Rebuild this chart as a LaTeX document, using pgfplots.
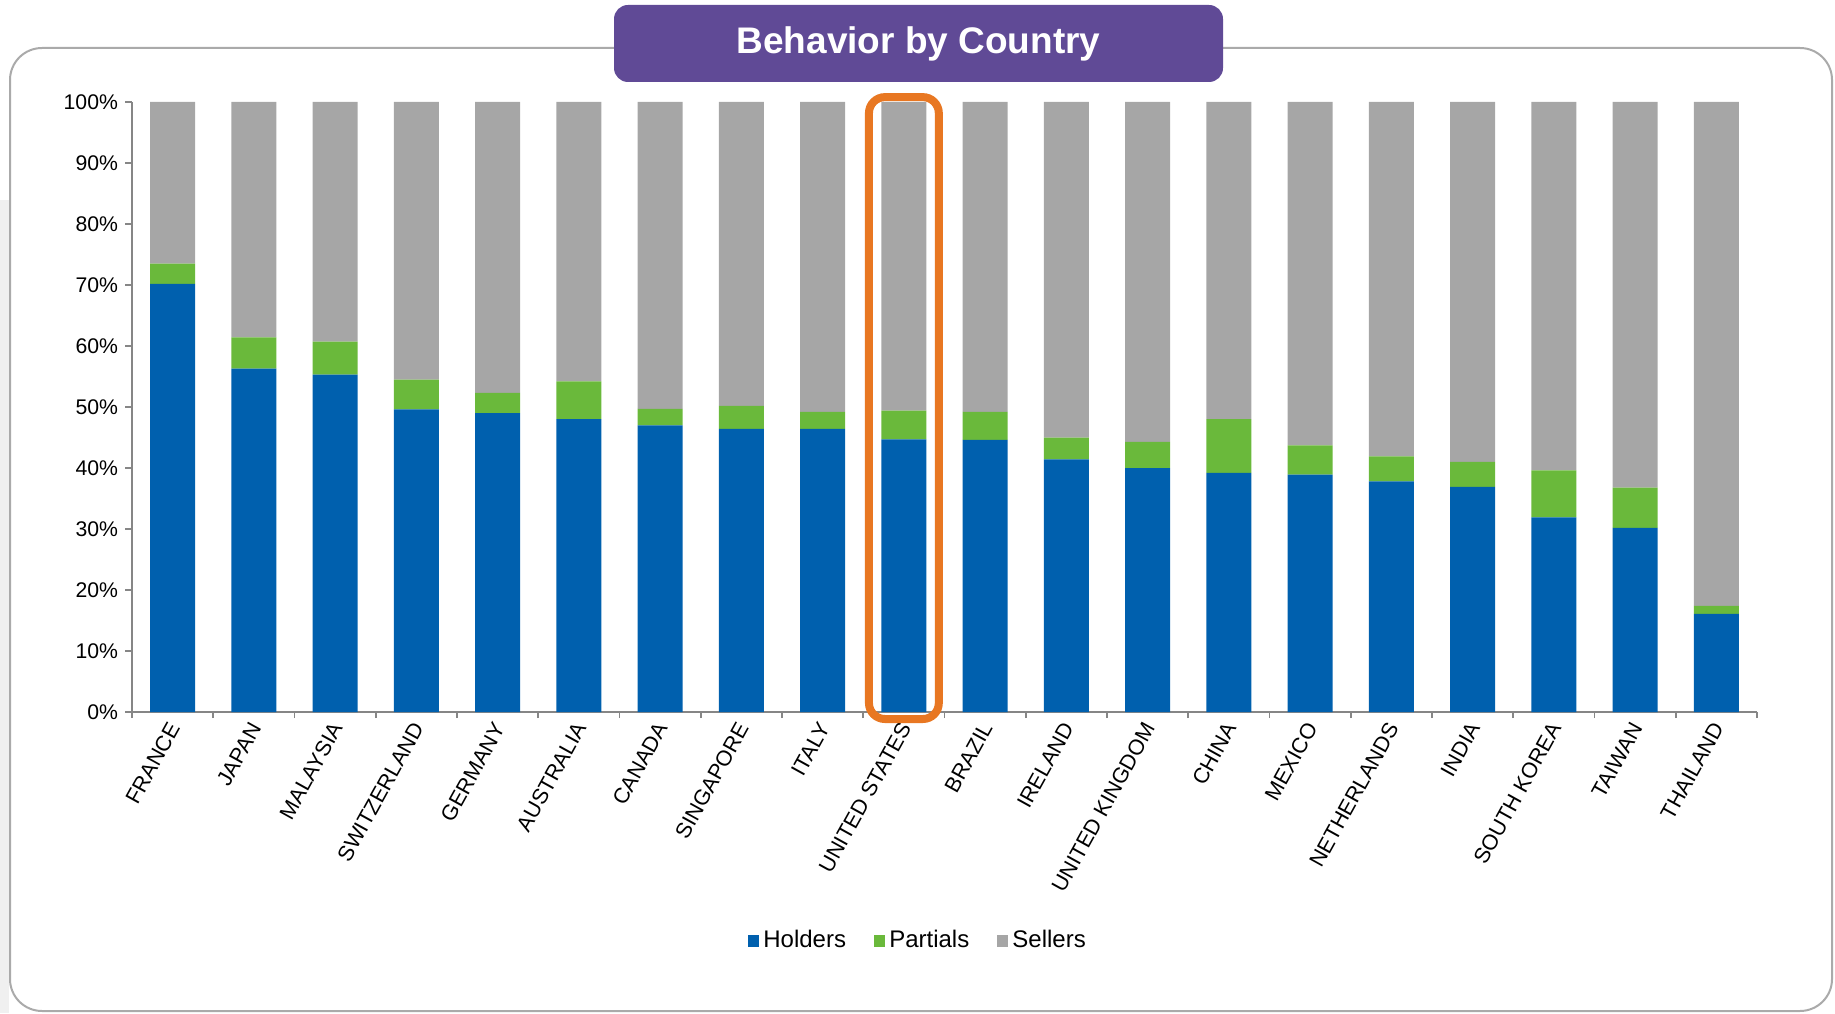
\documentclass[border=0pt]{standalone}
\usepackage{pgfplots}
\pgfplotsset{compat=1.18}
\usepackage{pgfplotstable}
\usepackage{fontspec}
\setmainfont{Liberation Sans}
\definecolor{holdblue}{RGB}{0,96,174}
\definecolor{partgreen}{RGB}{106,185,59}
\definecolor{sellgray}{RGB}{166,166,166}
\definecolor{titlepurple}{RGB}{96,74,150}
\definecolor{hlorange}{RGB}{232,119,34}
\definecolor{axisgray}{RGB}{134,134,134}
\definecolor{framegray}{RGB}{170,170,170}

\pgfplotstableread{
idx holders partials sellers
0  70.2 3.3 26.5
1  56.3 5.1 38.6
2  55.3 5.4 39.3
3  49.6 4.9 45.5
4  49.0 3.3 47.7
5  48.0 6.2 45.8
6  47.0 2.7 50.3
7  46.4 3.8 49.8
8  46.4 2.8 50.8
9  44.7 4.7 50.6
10 44.6 4.6 50.8
11 41.4 3.6 55.0
12 40.0 4.3 55.7
13 39.2 8.8 52.0
14 38.9 4.8 56.3
15 37.8 4.1 58.1
16 36.9 4.1 59.0
17 31.9 7.7 60.4
18 30.2 6.6 63.2
19 16.1 1.3 82.6
}\datatable

\begin{document}
\begin{tikzpicture}[x=0.5pt,y=0.5pt]
\path[use as bounding box] (0,0) rectangle (1835,1013);
\fill[gray!12] (0,0) rectangle (9,813);
\draw[framegray, line width=1pt, rounded corners=16pt] (10,2) rectangle (1832,965);
\fill[titlepurple, rounded corners=7pt] (614,931) rectangle (1223,1008);
\node[text=white, font=\fontsize{18.5}{22}\selectfont\bfseries] at (918.5,969.5) {Behavior by Country};
\begin{axis}[
  at={(66pt,150.5pt)}, anchor=south west,
  scale only axis, width=812.5pt, height=305pt,
  ybar stacked, bar width=22.5pt,
  xmin=-0.5, xmax=19.5, ymin=0, ymax=100,
  axis x line*=bottom, axis y line*=left,
  axis line style={draw=axisgray, line width=0.9pt, -},
  tick align=outside,
  major tick length=3.5pt, minor tick length=3pt,
  xtick={0,...,19},
  xticklabels={FRANCE,JAPAN,MALAYSIA,SWITZERLAND,GERMANY,AUSTRALIA,CANADA,SINGAPORE,ITALY,UNITED STATES,BRAZIL,IRELAND,UNITED KINGDOM,CHINA,MEXICO,NETHERLANDS,INDIA,SOUTH KOREA,TAIWAN,THAILAND},
  minor xtick={-0.5,0.5,...,19.5},
  major x tick style={draw=none},
  minor x tick style={draw=axisgray, line width=0.9pt},
  ytick={0,10,...,100},
  yticklabels={0\%,10\%,20\%,30\%,40\%,50\%,60\%,70\%,80\%,90\%,100\%},
  ytick style={draw=axisgray, line width=0.9pt},
  xticklabel style={rotate=61, anchor=east, xshift=1.5pt, yshift=-2pt, font=\fontsize{10.8}{12}\selectfont},
  yticklabel style={font=\fontsize{10.6}{12}\selectfont},
  /pgf/number format/assume math mode=true,
  clip=false,
  legend style={at={(0.4843,-0.375)}, anchor=center, draw=none, fill=none,
    legend columns=-1, font=\fontsize{12}{14}\selectfont,
    /tikz/every even column/.append style={column sep=12pt},
    /tikz/every odd column/.append style={column sep=0pt}},
  legend image code/.code={\fill[#1] (0pt,-2.9pt) rectangle (5.6pt,2.9pt);},
]
\addplot[fill=holdblue, draw=none] table[x=idx,y=holders]{\datatable};
\addlegendentry{Holders}
\addplot[fill=partgreen, draw=none] table[x=idx,y=partials]{\datatable};
\addlegendentry{Partials}
\addplot[fill=sellgray, draw=none] table[x=idx,y=sellers]{\datatable};
\addlegendentry{Sellers}
\draw[hlorange, line width=4pt, rounded corners=8pt] (axis cs:8.57,-1.15) rectangle (axis cs:9.43,100.8);
\end{axis}
\end{tikzpicture}
\end{document}
